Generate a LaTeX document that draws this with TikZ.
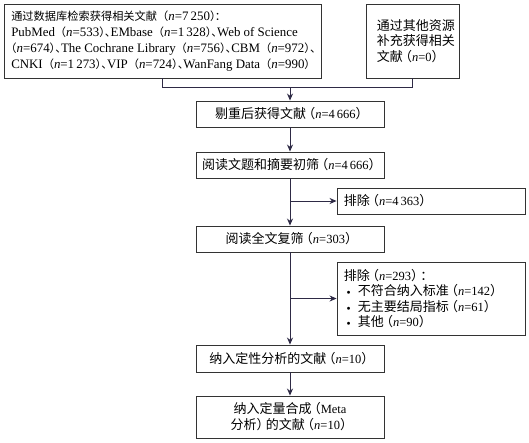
\documentclass[tikz,border=0pt]{standalone}
\usepackage{fontspec}
\setmainfont{Liberation Serif}
\newfontfamily\cjk[Scale=1.04]{Noto Sans CJK SC}
\newfontfamily\cjks[Scale=0.87]{Noto Sans CJK SC}
\newcommand\zh[1]{{\cjk #1}}
\newcommand\zs[1]{{\cjks #1}}
\newcommand\nn{\textit{n}}
% compressed parens for main boxes
\newcommand\lpc{\kern-0.3em\zh{（}}
\newcommand\rpc{\zh{）}\kern-0.3em}
% box 1 punctuation
\newcommand\lps{\zs{（}}
\newcommand\rps{\zs{）}}
\newcommand\rpd{\zs{）}\kern-0.43em\zs{、}\kern-0.43em}
\newcommand\bul{\hspace*{14pt}\llap{\raisebox{1pt}{\scriptsize$\bullet$}\hspace{7pt}}}
\usetikzlibrary{arrows.meta}
\definecolor{linec}{HTML}{2E2A45}
\definecolor{boxc}{HTML}{333333}
\begin{document}
\begin{tikzpicture}[x=1pt,y=-1pt,
  box/.style={draw=boxc, line width=0.9pt, inner sep=0pt, align=center,
    font=\fontsize{12.5}{16}\selectfont},
  txt/.style={inner sep=0pt, align=left, anchor=west, font=\fontsize{12.5}{16}\selectfont},
  conn/.style={draw=linec, line width=0.9pt},
  arr/.style={conn, -{Stealth[length=7pt,width=6pt]}}]
\useasboundingbox (0,0) rectangle (529,442);
\fill[white] (0,0) rectangle (529,442);
% boxes
\node[box, minimum width=317pt, minimum height=74pt] (b1) at (162.5,41) {};
\node[txt, font=\fontsize{12.9}{16}\selectfont] (t1) at ([xshift=7.5pt]b1.west) {\zs{通过数据库检索获得相关文献（}\nn=7\,250\zs{）}\kern-0.5em\zs{：}\\
PubMed\lps\nn=533\rpd EMbase\lps\nn=1\,328\rpd Web of Science\\
\kern-0.45em\lps\nn=674\rpd The Cochrane Library\lps\nn=756\rpd CBM\lps\nn=972\rpd\\
CNKI\lps\nn=1\,273\rpd VIP\lps\nn=724\rpd WanFang Data\lps\nn=990\rps};
\node[box, minimum width=93pt, minimum height=74pt] (b2) at (412.5,41) {};
\node[txt, font=\fontsize{12.5}{15.5}\selectfont] (t2) at ([xshift=11pt]b2.west) {\zh{通过其他资源}\\\zh{补充获得相关}\\\zh{文献}\lpc\nn=0\rpc};
\node[box, minimum width=188pt, minimum height=26pt] (b3) at (290,114) {\zh{剔重后获得文献}\lpc\nn=4\,666\rpc};
\node[box, minimum width=188pt, minimum height=26pt] (b4) at (290,165) {\zh{阅读文题和摘要初筛}\lpc\nn=4\,666\rpc};
\node[box, minimum width=188pt, minimum height=26pt] (e1) at (431,201) {};
\node[txt] (te1) at ([xshift=7pt]e1.west) {\zh{排除}\lpc\nn=4\,363\rpc};
\node[box, minimum width=188pt, minimum height=26pt] (b5) at (290,239) {\zh{阅读全文复筛}\lpc\nn=303\rpc};
\node[box, minimum width=188pt, minimum height=73pt] (e2) at (431,298.5) {};
\node[txt, font=\fontsize{12.5}{15.4}\selectfont] (te2) at ([xshift=7pt]e2.west) {\zh{排除}\lpc\nn=293\rpc\zh{：}\\
\bul\zh{不符合纳入标准}\lpc\nn=142\rpc\\
\bul\zh{无主要结局指标}\lpc\nn=61\rpc\\
\bul\zh{其他}\lpc\nn=90\rpc};
\node[box, minimum width=188pt, minimum height=27pt] (b6) at (290,358.5) {\zh{纳入定性分析的文献}\lpc\nn=10\rpc};
\node[box, minimum width=188pt, minimum height=42pt] (b7) at (290,417) {\zh{纳入定量合成}\lpc Meta\\\zh{分析}\rpc\zh{的文献}\lpc\nn=10\rpc};
% connectors
\coordinate (j) at (290,87);
\draw[conn] (b1.south) -- ++(0,9) -| (b2.south);
\draw[arr] (j) -- (b3.north);
\draw[arr] (b3.south) -- (b4.north);
\draw[arr] (b4.south) -- (b5.north);
\draw[arr] (b4.south |- e1.west) -- (e1.west);
\draw[arr] (b5.south) -- (b6.north);
\draw[arr] (b5.south |- e2.west) -- (e2.west);
\draw[arr] (b6.south) -- (b7.north);
\end{tikzpicture}
\end{document}
